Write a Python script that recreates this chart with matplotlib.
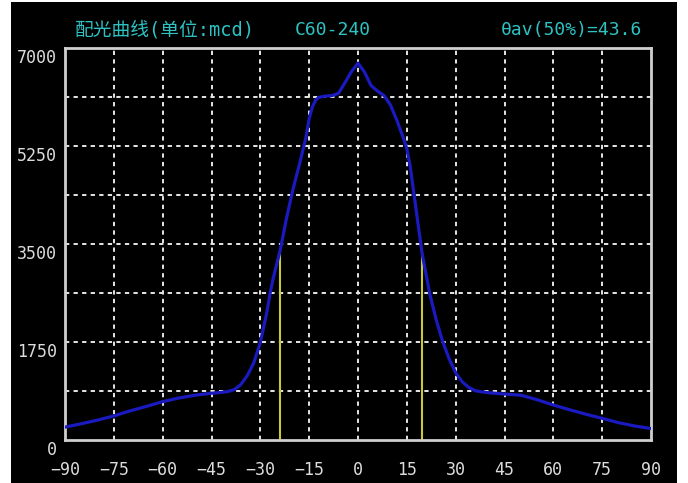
import matplotlib
matplotlib.use("Agg")
import matplotlib.pyplot as plt
from matplotlib.patches import Rectangle
from matplotlib.transforms import ScaledTranslation

# Luminous intensity distribution (mcd) versus angle (degrees)
angles = [-90, -85, -80, -75, -70, -65, -60, -55, -50, -45, -42, -40, -38, -36,
          -34, -32, -30, -28, -27, -26, -25, -24, -23, -22, -20, -18, -16, -15,
          -14, -13, -12, -10, -8, -6, -4, -2, 0, 2, 4, 6, 8, 10, 12, 14, 15, 16,
          18, 19.6, 20, 21, 22, 24, 26, 28, 30, 32, 34, 36, 38, 40, 45, 50, 55,
          60, 65, 70, 75, 80, 85, 90]
intensity = [230, 290, 355, 430, 520, 600, 685, 750, 800, 835, 850, 865, 900, 990,
             1150, 1380, 1740, 2280, 2620, 2900, 3130, 3365, 3650, 3950, 4470, 4920, 5400, 5740,
             5950, 6070, 6120, 6140, 6150, 6190, 6380, 6580, 6730, 6570, 6330, 6230, 6150, 5980, 5700, 5380, 5200, 4900,
             4050, 3365, 3240, 2930, 2620, 2150, 1760, 1450, 1200, 1040, 940, 880, 860, 845, 821, 800, 720,
             625, 540, 460, 387, 310, 250, 205]

# Half-intensity angles (50% of peak)
half_angles = [-24.0, 19.6]
half_value = 3365

x_ticks = [-90, -75, -60, -45, -30, -15, 0, 15, 30, 45, 60, 75, 90]
y_grid = [0, 875, 1750, 2625, 3500, 4375, 5250, 6125, 7000]
y_ticks = [0, 1750, 3500, 5250, 7000]

title_left = "配光曲线(单位:mcd)"
title_model = "C60-240"
title_right = "θav(50%)=43.6"

W, H = 688, 483
fig = plt.figure(figsize=(W / 100, H / 100), dpi=100, facecolor="white")
fig.add_artist(Rectangle((11 / W, 0), (677 - 11) / W, (H - 2) / H,
                         transform=fig.transFigure, facecolor="black",
                         edgecolor="none", zorder=0))

left, right, top, bottom = 65, 651, 48, 440
ax = fig.add_axes([left / W, 1 - bottom / H, (right - left) / W, (bottom - top) / H])
ax.set_facecolor("black")
ax.set_xlim(-90, 90)
ax.set_ylim(0, 7000)

grid_kw = dict(color="#e6e6e6", lw=1.4, linestyle=(0, (2.2, 2.2)), zorder=1)
for gx in x_ticks[1:-1]:
    ax.axvline(gx, **grid_kw)
for gy in y_grid[1:-1]:
    ax.axhline(gy, **grid_kw)

ax.plot(angles, intensity, color="#1a1ac0", lw=2.3, zorder=3, solid_joinstyle="round")
ax.vlines(half_angles, 0, half_value, color="#c8c83a", lw=1.5, zorder=2)

for s in ax.spines.values():
    s.set_color("#cfcfcf")
    s.set_linewidth(2)

mono = ["DejaVu Sans Mono", "Noto Sans CJK SC"]
ax.set_xticks(x_ticks)
ax.set_xticklabels([str(v).replace("-", "\u2212") for v in x_ticks],
                   family=mono, fontsize=12, color="#dcdcdc")
ax.set_yticks(y_ticks)
ax.set_yticklabels([str(v) for v in y_ticks], family=mono, fontsize=12, color="#dcdcdc")
ax.tick_params(length=0)
ax.tick_params(axis="x", pad=15)
ax.tick_params(axis="y", pad=6)
shift = ScaledTranslation(0, -8 / 100, fig.dpi_scale_trans)
for lab in ax.get_yticklabels():
    lab.set_transform(lab.get_transform() + shift)

tc = "#2ec2c2"
fig.text(75 / W, 1 - 30 / H, title_left, family=mono, fontsize=13.5, color=tc,
         ha="left", va="center")
fig.text(295 / W, 1 - 30 / H, title_model, family=mono, fontsize=13, color=tc,
         ha="left", va="center")
fig.text(642 / W, 1 - 30 / H, title_right, family=mono, fontsize=13, color=tc,
         ha="right", va="center")

fig.savefig("out.png", dpi=100, facecolor="white")
